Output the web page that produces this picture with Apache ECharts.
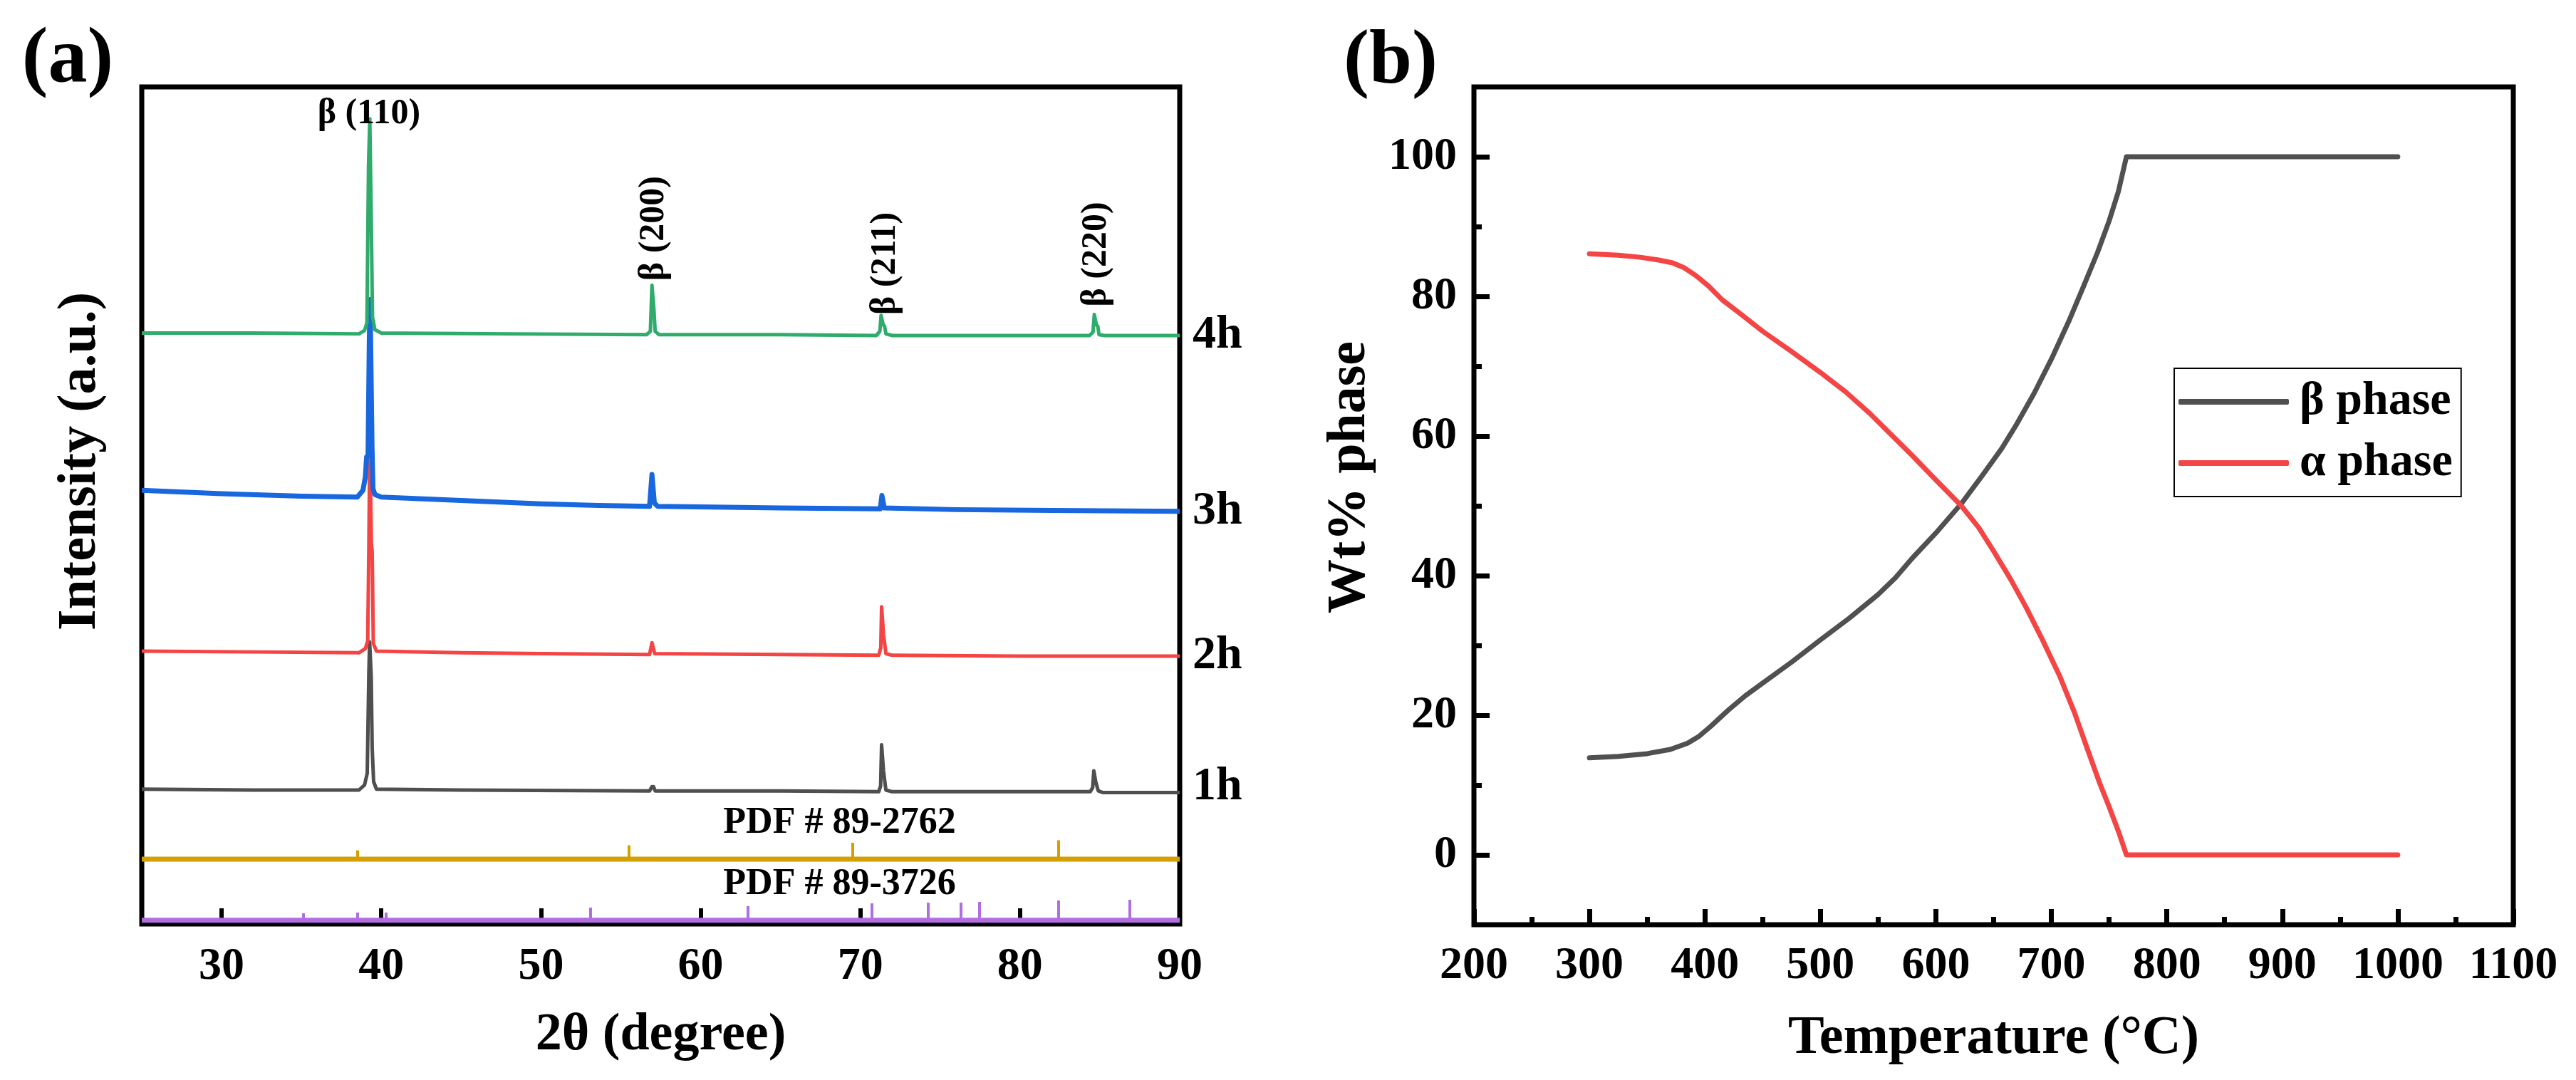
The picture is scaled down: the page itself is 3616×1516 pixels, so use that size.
<!DOCTYPE html>
<html>
<head>
<meta charset="utf-8">
<title>XRD patterns and phase fraction</title>
<script src="https://cdn.jsdelivr.net/npm/echarts@6/dist/echarts.min.js"></script>
<style>
  html, body { margin: 0; padding: 0; background: #fff; }
  #chart { width: 3616px; height: 1516px; }
</style>
</head>
<body>
<div id="chart"></div>
<script>
// (a) XRD patterns, intensity in a.u. (stacked with offsets as drawn)
var xrd4h = [[25,70.6],[32,70.6],[38.6,70.5],[38.95,70.9],[39.1,71.8],[39.2,90.6],[39.28,96.2],[39.33,96.2],[39.38,82.9],[39.45,72.5],[39.6,71.0],[40,70.6],[48,70.5],[56.6,70.4],[56.85,70.8],[56.95,76.3],[57.02,76.3],[57.08,73.2],[57.15,70.8],[57.4,70.4],[65,70.4],[71.0,70.3],[71.22,70.8],[71.3,72.7],[71.37,72.7],[71.43,71.6],[71.52,71.4],[71.6,70.5],[72,70.3],[80,70.3],[84.35,70.3],[84.57,70.7],[84.65,72.8],[84.72,72.8],[84.78,71.6],[84.87,71.4],[84.95,70.4],[85.3,70.3],[90,70.3]];
var xrd3h = [[25,51.8],[30,51.4],[35,51.1],[38.5,51.0],[38.85,51.8],[39.0,53.4],[39.08,55.8],[39.17,56.0],[39.25,70.0],[39.3,74.6],[39.35,74.6],[39.42,57.0],[39.48,52.0],[39.6,51.3],[40,51.0],[45,50.6],[50,50.2],[53.6,50.0],[56.8,49.9],[56.95,53.7],[57.03,53.7],[57.1,50.3],[57.3,49.9],[65,49.7],[71.25,49.6],[71.35,51.2],[71.42,51.2],[71.5,49.7],[76,49.5],[82,49.4],[90,49.3]];
var xrd2h = [[25,32.6],[32,32.5],[38.6,32.4],[39.0,32.9],[39.15,33.8],[39.22,45.0],[39.28,57.6],[39.33,57.6],[39.38,45.4],[39.43,44.5],[39.5,33.5],[39.7,32.6],[45,32.4],[50,32.3],[56.8,32.2],[56.95,33.6],[57.03,33.6],[57.12,32.3],[65,32.2],[71.15,32.1],[71.28,33.0],[71.33,37.9],[71.4,37.9],[71.45,34.6],[71.52,34.5],[71.6,32.3],[72,32.1],[80,32.0],[90,32.0]];
var xrd1h = [[25,16.1],[32,16.0],[38.6,16.0],[38.95,16.6],[39.12,18.0],[39.22,30.0],[39.27,33.7],[39.32,33.7],[39.37,29.5],[39.43,21.0],[39.52,17.0],[39.7,16.1],[45,16.0],[56.8,15.9],[56.95,16.4],[57.05,16.4],[57.15,15.9],[65,15.9],[71.15,15.8],[71.27,16.5],[71.33,21.4],[71.4,21.4],[71.45,18.3],[71.52,18.2],[71.6,16.0],[72,15.8],[84.4,15.8],[84.55,16.3],[84.62,18.3],[84.68,18.3],[84.74,17.0],[84.82,16.9],[84.9,15.9],[85.2,15.7],[90,15.7]];

// reference patterns: baseline level and stick (2θ, top)
var pdf2762Base = 7.74;
var pdf2762Sticks = [[38.5,8.8],[55.5,9.4],[69.5,9.7],[82.4,10.0]];
var pdf3726Base = 0.45;
var pdf3726Sticks = [[35.12,1.28],[38.51,1.36],[40.3,1.36],[53.1,1.96],[62.96,2.13],[70.72,2.47],[74.24,2.55],[76.29,2.55],[77.45,2.64],[82.4,2.81],[86.86,2.89]];

// peak annotations [2θ, y, text, rotate]
var peakLabels = [[39.23,96.8,'β (110)',0],[57.07,83.1,'β (200)',90],[71.56,78.9,'β (211)',90],[84.77,80.0,'β (220)',90]];
var pdfLabels = [[68.7,12.0,'PDF # 89-2762'],[68.7,4.7,'PDF # 89-3726']];
var xrdTicks = [30,40,50,60,70,80,90];

// (b) phase fraction vs temperature
var betaPhase = [[300,13.9],[325,14.1],[350,14.5],[370,15.1],[385,16.0],[395,17.0],[405,18.4],[420,20.7],[435,22.8],[450,24.6],[475,27.6],[500,30.8],[525,33.9],[550,37.3],[565,39.7],[579,42.4],[600,46.1],[622,50.3],[640,54.3],[657,58.2],[670,61.7],[685,66.1],[700,71.0],[715,76.4],[728,81.5],[740,86.3],[750,90.8],[758,95.0],[765,100],[850,100],[1000,100]];
var alphaPhase = [[300,86.1],[325,85.9],[344,85.6],[360,85.2],[372,84.8],[382,84.1],[392,83.0],[403,81.5],[415,79.5],[430,77.6],[450,75.0],[475,72.1],[500,69.1],[522,66.3],[543,63.2],[560,60.4],[579,57.3],[600,53.7],[622,50.0],[637,46.9],[650,43.5],[665,39.4],[678,35.5],[692,30.9],[707,25.7],[720,20.4],[732,14.8],[742,10.2],[750,6.9],[758,3.4],[765,0],[850,0],[1000,0]];
var tempTicks = [0,20,40,60,80,100];
var tempMinorTicks = [10,30,50,70,90];

var FONT = "'Liberation Serif', 'Times New Roman', serif";
var C = {
  g4: '#2fab6b', b3: '#1867df', r2: '#f54444', k1: '#4f4f4f',
  gold: '#d4a000', purple: '#b06ee0', beta: '#505050', alpha: '#f44444'
};

function txt(size) {
  return { fontFamily: FONT, fontWeight: 'bold', fontSize: size, color: '#000' };
}

function xrdSeries(name, data, color, width, offset) {
  return {
    name: name, type: 'line', xAxisIndex: 0, yAxisIndex: 0,
    data: data, showSymbol: false, symbol: 'none',
    lineStyle: { color: color, width: width, join: 'round' },
    endLabel: Object.assign({ show: true, formatter: '{a}', distance: 18, offset: offset || [0, 0] }, txt(66)),
    z: 3
  };
}

function stickSeries(name, base, sticks, color) {
  return {
    name: name, type: 'line', xAxisIndex: 0, yAxisIndex: 0,
    data: [[25, base], [90, base]], showSymbol: false, symbol: 'none',
    lineStyle: { color: color, width: 7 },
    markLine: {
      silent: true, symbol: ['none', 'none'], label: { show: false },
      lineStyle: { color: color, width: 4, type: 'solid' },
      data: sticks.map(function (s) { return [{ coord: [s[0], base] }, { coord: [s[0], s[1]] }]; })
    },
    z: 2
  };
}

function labelSeries(name, items, size) {
  return {
    name: name, type: 'scatter', xAxisIndex: 0, yAxisIndex: 0, symbolSize: 0, silent: true,
    itemStyle: { opacity: 1 },
    data: items.map(function (p) {
      return { value: [p[0], p[1]], label: Object.assign({ show: true, position: 'inside', formatter: p[2], rotate: p[3] || 0 }, txt(size)) };
    }),
    z: 5
  };
}

var chart = echarts.init(document.getElementById('chart'), null, { renderer: 'canvas' });

var option = {
  animation: false,
  backgroundColor: '#fff',
  grid: [
    { left: 199, right: 1960, top: 122, bottom: 219, show: true, borderColor: '#000', borderWidth: 7, backgroundColor: 'transparent' },
    { left: 2069, right: 88, top: 122, bottom: 218, show: true, borderColor: '#000', borderWidth: 7, backgroundColor: 'transparent' }
  ],
  xAxis: [
    {
      gridIndex: 0, type: 'value', min: 25, max: 90,
      axisLine: { show: false, onZero: false }, splitLine: { show: false },
      axisTick: { show: true, inside: true, length: 22, customValues: xrdTicks, lineStyle: { color: '#000', width: 6 } },
      axisLabel: Object.assign({ margin: 28, customValues: xrdTicks }, txt(64)),
      name: '2θ (degree)', nameLocation: 'middle', nameGap: 120,
      nameTextStyle: txt(74)
    },
    {
      gridIndex: 1, type: 'value', min: 200, max: 1100, interval: 100,
      axisLine: { show: false, onZero: false }, splitLine: { show: false },
      axisTick: { show: true, inside: true, length: 22, lineStyle: { color: '#000', width: 7 } },
      minorTick: { show: true, splitNumber: 2, length: 11, lineStyle: { color: '#000', width: 7 } },
      axisLabel: Object.assign({ margin: 26, formatter: function (v) { return String(v); } }, txt(64)),
      name: 'Temperature (°C)', nameLocation: 'middle', nameGap: 122,
      nameTextStyle: txt(76)
    }
  ],
  yAxis: [
    {
      gridIndex: 0, type: 'value', min: 0, max: 100,
      axisLine: { show: false, onZero: false }, splitLine: { show: false },
      axisTick: { show: false }, axisLabel: { show: false },
      name: 'Intensity (a.u.)', nameLocation: 'middle', nameGap: 48,
      nameTextStyle: Object.assign({ padding: [0, 0, 0, 124] }, txt(76))
    },
    {
      gridIndex: 1, type: 'value', min: -10, max: 110,
      axisLine: { show: false, onZero: false }, splitLine: { show: false },
      axisTick: { show: true, inside: true, length: 22, customValues: tempTicks, lineStyle: { color: '#000', width: 7 } },
      axisLabel: Object.assign({ margin: 24, customValues: tempTicks }, txt(64)),
      name: 'Wt% phase', nameLocation: 'middle', nameGap: 136,
      nameTextStyle: Object.assign({ padding: [0, 0, 0, 80] }, txt(76))
    },
    {
      gridIndex: 1, type: 'value', min: -10, max: 110, position: 'left', offset: 0,
      axisLine: { show: false, onZero: false }, splitLine: { show: false },
      axisTick: { show: true, inside: true, length: 11, customValues: tempMinorTicks, lineStyle: { color: '#000', width: 7 } },
      axisLabel: { show: false }
    }
  ],
  legend: {
    data: [{ name: 'β phase', icon: 'roundRect' }, { name: 'α phase', icon: 'roundRect' }],
    orient: 'vertical', left: 3052, top: 517,
    backgroundColor: '#fff',
    borderColor: '#000', borderWidth: 2,
    padding: [14, 12, 14, 6],
    itemWidth: 155, itemHeight: 8, itemGap: 20,
    textStyle: Object.assign({ lineHeight: 64, padding: [0, 0, 0, 10] }, txt(66))
  },
  graphic: [
    { type: 'text', x: 95, y: 86, style: { text: '(a)', font: 'bold 110px ' + FONT, fill: '#000', textAlign: 'center', textVerticalAlign: 'middle' } },
    { type: 'text', x: 1952, y: 88, style: { text: '(b)', font: 'bold 108px ' + FONT, fill: '#000', textAlign: 'center', textVerticalAlign: 'middle' } }
  ],
  series: [
    stickSeries('PDF 89-3726', pdf3726Base, pdf3726Sticks, C.purple),
    stickSeries('PDF 89-2762', pdf2762Base, pdf2762Sticks, C.gold),
    xrdSeries('1h', xrd1h, C.k1, 5, [0, -8]),
    xrdSeries('2h', xrd2h, C.r2, 5),
    xrdSeries('3h', xrd3h, C.b3, 7),
    xrdSeries('4h', xrd4h, C.g4, 5),
    labelSeries('peaks', peakLabels, 50),
    labelSeries('pdf labels', pdfLabels, 52),
    {
      name: 'β phase', type: 'line', xAxisIndex: 1, yAxisIndex: 1,
      data: betaPhase, showSymbol: false, symbol: 'none',
      lineStyle: { color: C.beta, width: 7, cap: 'round', join: 'round' },
      itemStyle: { color: C.beta }
    },
    {
      name: 'α phase', type: 'line', xAxisIndex: 1, yAxisIndex: 1,
      data: alphaPhase, showSymbol: false, symbol: 'none',
      lineStyle: { color: C.alpha, width: 7, cap: 'round', join: 'round' },
      itemStyle: { color: C.alpha }
    }
  ]
};

chart.setOption(option);
</script>
</body>
</html>
